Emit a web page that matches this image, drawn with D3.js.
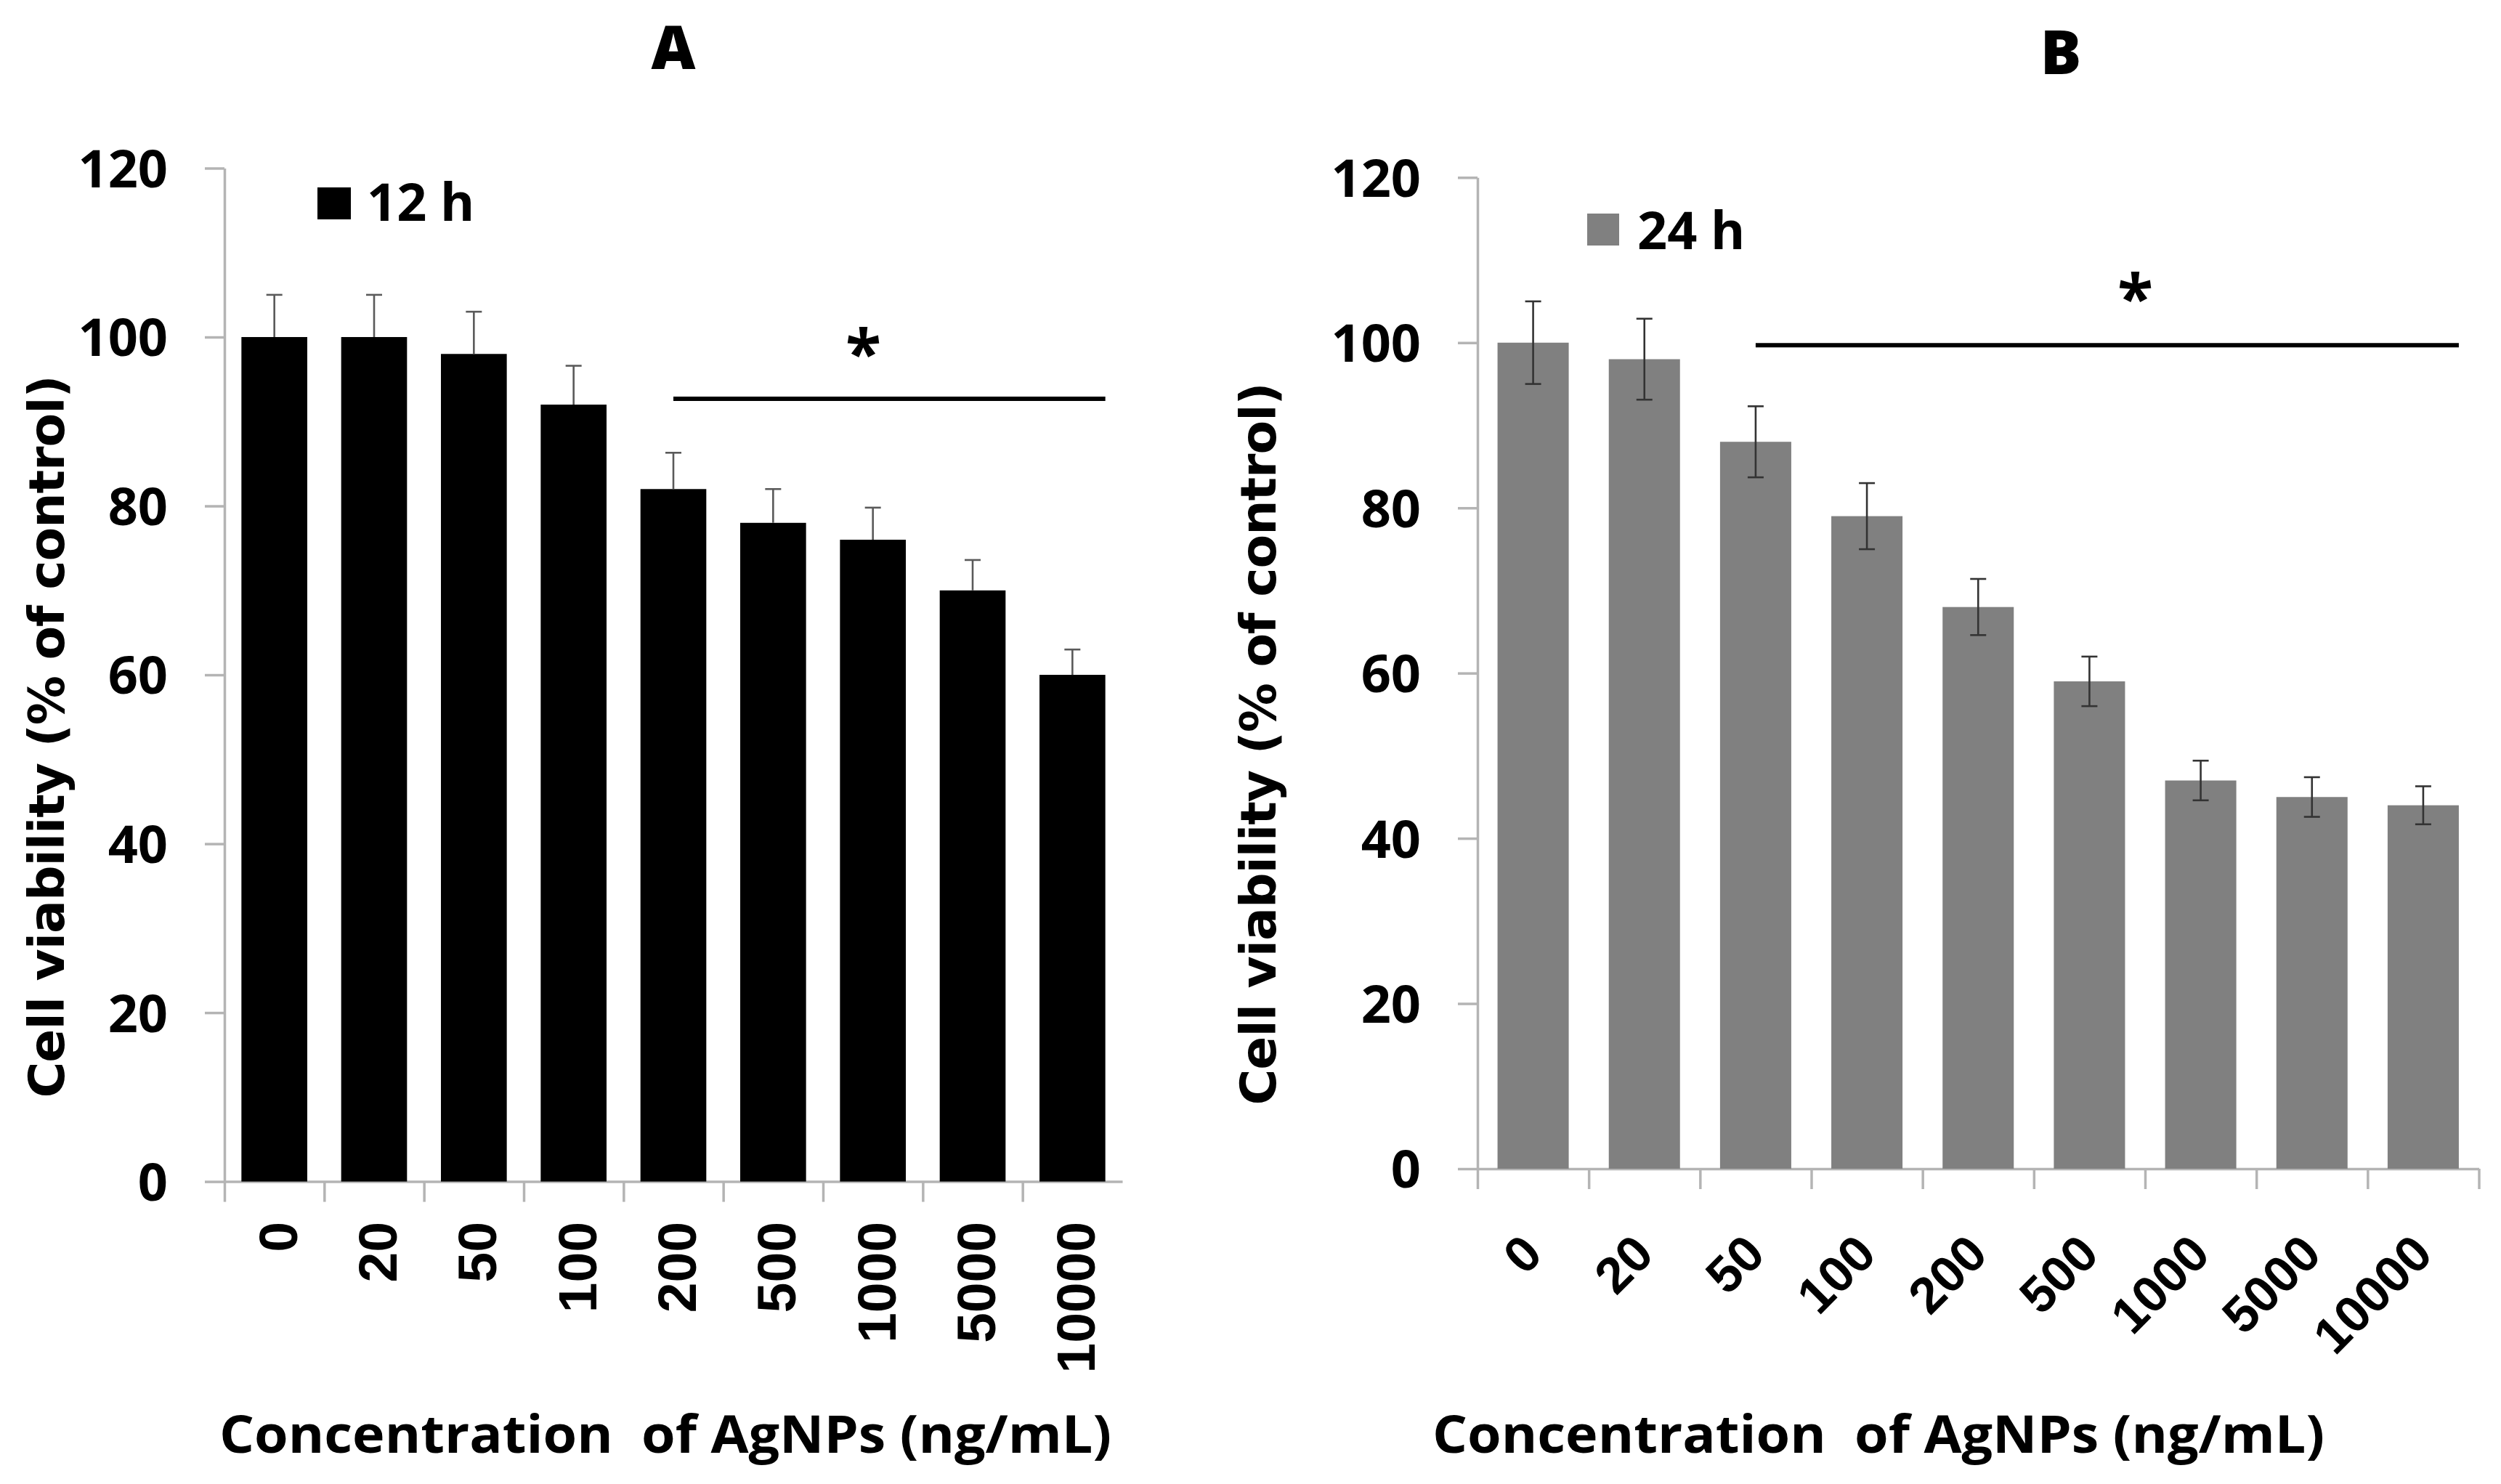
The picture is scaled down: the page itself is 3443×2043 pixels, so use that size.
<!DOCTYPE html>
<html lang="en">
<head>
<meta charset="UTF-8">
<title>Cell viability vs AgNPs concentration</title>
<script src="https://d3js.org/d3.v7.min.js"></script>
<style>
  html, body { margin: 0; padding: 0; background: #fff; }
  svg { display: block; }
  .axis path, .axis line { stroke: #b4b4b4; stroke-width: 3.5; }
</style>
</head>
<body>
<div id="chart"></div>
<script>
// data
const concLabels = ["0", "20", "50", "100", "200", "500", "1000", "5000", "10000"];
const viability12h = [100, 100, 98, 92, 82, 78, 76, 70, 60];
const error12h = [5, 5, 5, 4.6, 4.3, 4, 3.8, 3.6, 3];
const viability24h = [100, 98, 88, 79, 68, 59, 47, 45, 44];
const error24h = [5, 4.9, 4.3, 4, 3.4, 3, 2.4, 2.4, 2.3];
const yTicks = [0, 20, 40, 60, 80, 100, 120];
const seriesNames = ["12 h", "24 h"];
const panelTitles = ["A", "B"];
const sigFrom = ["200", "50"];
const sigTo = ["10000", "10000"];
const sigLevel = [92.7, 99.7];
const starLevel = [99.6, 107];

const W = 3443, H = 2043;
const svg = d3.select('#chart').append('svg')
    .attr('width', W).attr('height', H);

const tickFont = '"Open Sans", "Noto Sans", sans-serif';
const catFont = '"Liberation Sans", Arial, sans-serif';
const ylabFont = '"DejaVu Sans", Verdana, sans-serif';

const panels = [
  { title: panelTitles[0], name: seriesNames[0], values: viability12h, errs: error12h, twoSided: false,
    color: '#000', errColor: '#5a5a5a',
    x0: 309, x1: 1545, y0: 1626.6, y1: 231.5, pad: 0.34, endTick: false,
    titleX: 927, titleY: 95,
    legX: 437, legY: 258, legW: 46, legH: 44, legTextX: 505, legTextY: 304,
    ylabX: 88, ylabY: 1014,
    xtitleX: 916, xtitleW: 1228,
    catRot: -90, catSize: 75, catDx: 4, catDy: 1682,
    sig: 0 },
  { title: panelTitles[1], name: seriesNames[1], values: viability24h, errs: error24h, twoSided: true,
    color: '#808080', errColor: '#333',
    x0: 2034, x1: 3412.5, y0: 1609, y1: 244.3, pad: 0.36, endTick: true,
    titleX: 2837, titleY: 102,
    legX: 2185, legY: 294, legW: 44, legH: 44, legTextX: 2254, legTextY: 343,
    ylabX: 1756, ylabY: 1024,
    xtitleX: 2586, xtitleW: 1228,
    catRot: -45, catSize: 70, catDx: 16, catDy: 1730,
    sig: 1 }
];

panels.forEach(p => {
  const g = svg.append('g');

  const x = d3.scaleBand()
      .domain(concLabels)
      .range([p.x0, p.x1])
      .paddingInner(p.pad)
      .paddingOuter(p.pad / 2);

  const y = d3.scaleLinear()
      .domain([0, 120])
      .range([p.y0, p.y1]);

  // category boundaries for the tick marks under the x axis
  const edge = d3.scaleLinear().domain([0, concLabels.length]).range([p.x0, p.x1]);
  const edgeTicks = d3.range(0, concLabels.length + (p.endTick ? 1 : 0));

  // y axis
  const yAxis = g.append('g')
      .attr('class', 'axis')
      .attr('transform', `translate(${p.x0},0)`)
      .call(d3.axisLeft(y).tickValues(yTicks).tickSize(27).tickSizeOuter(0).tickPadding(51));
  yAxis.selectAll('text')
      .attr('font-family', tickFont)
      .attr('font-weight', 700)
      .attr('font-size', 72)
      .attr('fill', '#000')
      .attr('dy', '0.36em');

  // x axis: boundary ticks
  g.append('g')
      .attr('class', 'axis')
      .attr('transform', `translate(0,${p.y0})`)
      .call(d3.axisBottom(edge).tickValues(edgeTicks).tickFormat('').tickSize(28).tickSizeOuter(0));

  // x axis: category labels
  const xLab = g.append('g')
      .attr('transform', `translate(0,${p.y0})`)
      .call(d3.axisBottom(x).tickSize(0));
  xLab.select('.domain').remove();
  xLab.selectAll('text')
      .attr('font-family', catFont)
      .attr('font-weight', 700)
      .attr('font-size', p.catSize)
      .attr('fill', '#000')
      .attr('x', 0).attr('y', 0)
      .attr('dy', p.catRot === -90 ? '0.36em' : '0')
      .attr('text-anchor', 'end')
      .attr('transform', `translate(${p.catDx},${p.catDy - p.y0}) rotate(${p.catRot})`);

  // bars
  g.selectAll('.bar')
    .data(p.values)
    .enter().append('rect')
      .attr('x', (d, i) => x(concLabels[i]))
      .attr('y', d => y(d))
      .attr('width', x.bandwidth())
      .attr('height', d => y(0) - y(d))
      .attr('fill', p.color);

  // error bars
  const eb = g.selectAll('.err')
    .data(p.values)
    .enter().append('g')
      .attr('transform', (d, i) => `translate(${x(concLabels[i]) + x.bandwidth() / 2},0)`)
      .attr('stroke', p.errColor)
      .attr('stroke-width', 2.6);
  eb.append('line')
      .attr('y1', (d, i) => y(p.twoSided ? d - p.errs[i] : d))
      .attr('y2', (d, i) => y(d + p.errs[i]));
  eb.append('line')
      .attr('x1', -11).attr('x2', 11)
      .attr('y1', (d, i) => y(d + p.errs[i]))
      .attr('y2', (d, i) => y(d + p.errs[i]));
  if (p.twoSided) {
    eb.append('line')
        .attr('x1', -11).attr('x2', 11)
        .attr('y1', (d, i) => y(d - p.errs[i]))
        .attr('y2', (d, i) => y(d - p.errs[i]));
  }

  // significance line and star
  const sx1 = x(sigFrom[p.sig]) + x.bandwidth() / 2;
  const sx2 = x(sigTo[p.sig]) + x.bandwidth();
  g.append('line')
      .attr('x1', sx1).attr('x2', sx2)
      .attr('y1', y(sigLevel[p.sig])).attr('y2', y(sigLevel[p.sig]))
      .attr('stroke', '#000')
      .attr('stroke-width', 6);
  g.append('text')
      .attr('x', p.sig === 0 ? sx1 + (sx2 - sx1) * 0.44 : sx1 + (sx2 - sx1) * 0.54)
      .attr('y', y(starLevel[p.sig]))
      .attr('dy', '0.55em')
      .attr('text-anchor', 'middle')
      .attr('font-family', tickFont)
      .attr('font-weight', 700)
      .attr('font-size', 90)
      .text('*');

  // legend
  g.append('rect')
      .attr('x', p.legX).attr('y', p.legY)
      .attr('width', p.legW).attr('height', p.legH)
      .attr('fill', p.color);
  g.append('text')
      .attr('x', p.legTextX).attr('y', p.legTextY)
      .attr('font-family', tickFont)
      .attr('font-weight', 700)
      .attr('font-size', 72)
      .text(p.name);

  // panel title
  g.append('text')
      .attr('x', p.titleX).attr('y', p.titleY)
      .attr('text-anchor', 'middle')
      .attr('font-family', tickFont)
      .attr('font-weight', 800)
      .attr('font-size', 84)
      .text(p.title);

  // y axis title
  g.append('text')
      .attr('transform', `translate(${p.ylabX},${p.ylabY}) rotate(-90)`)
      .attr('text-anchor', 'middle')
      .attr('font-family', ylabFont)
      .attr('font-weight', 700)
      .attr('font-size', 68)
      .attr('textLength', 995)
      .attr('lengthAdjust', 'spacing')
      .text('Cell viability (% of control)');

  // x axis title
  g.append('text')
      .attr('x', p.xtitleX - p.xtitleW / 2).attr('y', 2000)
      .attr('font-family', tickFont)
      .attr('font-weight', 700)
      .attr('font-size', 72)
      .attr('textLength', p.xtitleW)
      .attr('lengthAdjust', 'spacingAndGlyphs')
      .style('white-space', 'pre')
      .text('Concentration  of AgNPs (ng/mL)');
});
</script>
</body>
</html>
